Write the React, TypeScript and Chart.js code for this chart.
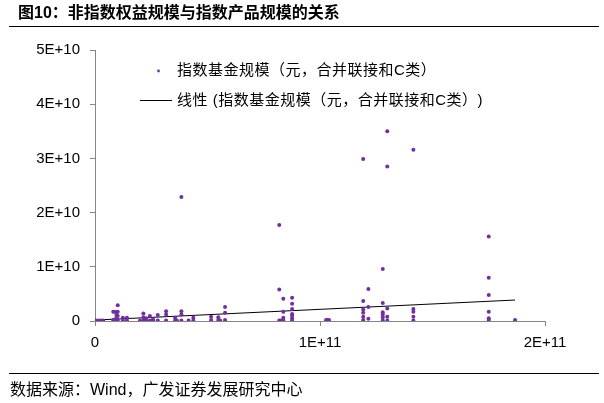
import React, { useEffect, useRef } from "react";
import { Chart, registerables } from "chart.js";

Chart.register(...registerables);

const UNIT = 1e9;
const titleText = "图10：非指数权益规模与指数产品规模的关系";
const sourceText = "数据来源：Wind，广发证券发展研究中心";
const scatterLabel = "指数基金规模（元，合并联接和C类）";
const trendLabel = "线性 (指数基金规模（元，合并联接和C类）)";

// fund size pairs, in units of 1e9
const fundX = [
  0.4, 1.5, 2.7, 3.7,
  8.1, 8.1, 8.9, 8.9, 9.6, 9.6, 9.6, 10.1, 10.1, 10.1, 10.1,
  12.4, 12.4, 14.2, 14.2, 20.0,
  21.5, 21.5, 21.5, 22.7, 22.7, 24.4, 24.4, 25.8, 25.8, 27.9, 27.9,
  31.6, 31.6, 31.6, 35.6, 35.6, 36.4,
  38.4, 38.4, 38.4, 38.4, 41.6, 43.7, 43.7,
  51.6, 51.6, 54.8, 54.8, 55.6, 57.8, 57.8, 57.8,
  81.9, 81.9, 81.9, 82.7, 83.7, 83.7, 83.7, 83.7,
  87.6, 87.6, 87.6, 87.6, 87.6, 87.6, 87.6,
  102.7, 103.3, 104.0,
  119.2, 119.2, 119.2, 119.2, 119.2, 119.2,
  121.5, 121.5, 121.5,
  127.9, 127.9, 127.9, 127.9, 127.9, 127.9,
  129.9, 129.9, 129.9, 129.9, 129.9,
  141.5, 141.5, 141.5, 141.5, 141.5,
  175.0, 175.0, 175.0, 175.0, 175.0, 175.0,
  186.7,
];
const fundY = [
  0.1, 0.1, 0.1, 0.1,
  0.2, 1.7, 1.7, 0.3, 1.2, 0.9, 0.1, 2.9, 1.7, 0.9, 0.2,
  0.6, 0.1, 0.6, 0.1, 0.1,
  1.4, 0.7, 0.1, 0.5, 0.1, 0.9, 0.1, 0.3, 0.1, 1.1, 0.1,
  1.8, 1.2, 0.1, 0.6, 0.1, 0.1,
  22.9, 1.8, 1.2, 0.1, 0.1, 0.6, 0.1,
  0.8, 0.2, 0.7, 0.2, 0.1, 2.6, 1.5, 0.2,
  17.7, 5.8, 0.1, 0.1, 4.1, 1.7, 0.6, 0.1,
  4.3, 3.2, 2.2, 1.3, 1.0, 0.5, 0.1,
  0.2, 0.2, 0.2,
  29.9, 3.7, 2.1, 1.5, 0.8, 0.2,
  5.9, 2.6, 0.4,
  9.6, 3.3, 1.6, 1.2, 0.7, 0.1,
  35.0, 28.5, 2.3, 0.8, 0.1,
  31.6, 2.2, 1.7, 0.8, 0.1,
  15.6, 8.0, 4.8, 1.7, 0.5, 0.2,
  0.2,
];
// linear trend endpoints (units of 1e9)
const trendX = [0.4, 186.7];
const trendY = [0.18, 3.87];

const yTicks = [0, 1e10, 2e10, 3e10, 4e10, 5e10];
const xTicks = [0, 1e11, 2e11];

const fmt = (v: number, exp: number) => (v === 0 ? "0" : `${Math.round(v / Math.pow(10, exp))}E+${exp}`);

const PURPLE = "#7030A0";
const AXIS = "#868686";
const FONT = '"Liberation Sans", "Noto Sans CJK SC", Arial, sans-serif';

const legendPlugin = {
  id: "customLegend",
  afterDraw(chart: any) {
    const ctx = chart.ctx;
    const ds = chart.data.datasets;
    ctx.save();
    ctx.font = `15px ${FONT}`;
    ctx.textBaseline = "middle";
    try {
      (ctx as any).letterSpacing = "0.5px";
    } catch (e) {}
    // scatter marker
    ctx.beginPath();
    ctx.fillStyle = PURPLE;
    ctx.arc(158.5, 71, 1.4, 0, Math.PI * 2);
    ctx.fill();
    ctx.fillStyle = "#000";
    ctx.fillText(ds[0].label, 177, 71);
    // line marker
    ctx.strokeStyle = "#000";
    ctx.lineWidth = 1;
    ctx.beginPath();
    ctx.moveTo(140, 100.5);
    ctx.lineTo(172, 100.5);
    ctx.stroke();
    ctx.fillText(ds[1].label, 177, 101);
    ctx.restore();
  },
};

export default function App() {
  const ref = useRef<HTMLCanvasElement>(null);
  useEffect(() => {
    if (!ref.current) return;
    const points = fundX.map((x, i) => ({ x: x * UNIT, y: fundY[i] * UNIT }));
    const trend = trendX.map((x, i) => ({ x: x * UNIT, y: trendY[i] * UNIT }));
    const chart = new Chart(ref.current, {
      type: "scatter",
      data: {
        datasets: [
          {
            type: "scatter",
            label: scatterLabel,
            data: points,
            backgroundColor: PURPLE,
            borderColor: PURPLE,
            pointRadius: 2,
            borderWidth: 0,
            order: 0,
          } as any,
          {
            type: "line",
            label: trendLabel,
            data: trend,
            borderColor: "#000",
            borderWidth: 1,
            pointRadius: 0,
            fill: false,
            order: 1,
          } as any,
        ],
      },
      options: {
        responsive: false,
        animation: false,
        events: [],
        layout: { padding: { top: 50, right: 59, left: 0, bottom: 0 } },
        plugins: { legend: { display: false }, tooltip: { enabled: false } },
        scales: {
          x: {
            type: "linear",
            min: 0,
            max: 2e11,
            afterBuildTicks: (s: any) => {
              s.ticks = xTicks.map((v) => ({ value: v }));
            },
            afterFit: (s: any) => {
              s.height = 82;
            },
            ticks: {
              callback: (v: any) => fmt(Number(v), 11),
              font: { size: 15, family: FONT },
              color: "#000",
              padding: 8,
              maxRotation: 0,
            },
            grid: { display: true, drawOnChartArea: false, drawTicks: true, tickLength: 5, color: AXIS },
            border: { display: true, color: AXIS, width: 1 },
          },
          y: {
            type: "linear",
            min: 0,
            max: 5e10,
            afterBuildTicks: (s: any) => {
              s.ticks = yTicks.map((v) => ({ value: v }));
            },
            afterFit: (s: any) => {
              s.width = 95;
            },
            ticks: {
              callback: (v: any) => fmt(Number(v), 10),
              font: { size: 15, family: FONT },
              color: "#000",
              padding: 10,
            },
            grid: { display: true, drawOnChartArea: false, drawTicks: true, tickLength: 5, color: AXIS },
            border: { display: true, color: AXIS, width: 1 },
          },
        },
      } as any,
      plugins: [legendPlugin],
    });
    return () => chart.destroy();
  }, []);

  return (
    <div style={{ position: "fixed", left: 0, top: 0, width: 604, height: 403, background: "#fff", overflow: "hidden" }}>
      <canvas ref={ref} width={604} height={403} style={{ position: "absolute", left: 0, top: 0, width: 604, height: 403 }} />
      <div
        style={{
          position: "absolute",
          left: 18,
          top: 3,
          fontFamily: FONT,
          fontWeight: "bold",
          fontSize: 16,
          lineHeight: "20px",
          color: "#000",
          whiteSpace: "nowrap",
        }}
      >
        {titleText}
      </div>
      <div style={{ position: "absolute", left: 9, top: 26, width: 590, height: 0, borderTop: "1.5px solid #000" }} />
      <div style={{ position: "absolute", left: 9, top: 373, width: 590, height: 0, borderTop: "1.5px solid #000" }} />
      <div
        style={{
          position: "absolute",
          left: 10,
          top: 380,
          fontFamily: FONT,
          fontSize: 16,
          lineHeight: "20px",
          color: "#000",
          whiteSpace: "nowrap",
        }}
      >
        {sourceText}
      </div>
    </div>
  );
}
